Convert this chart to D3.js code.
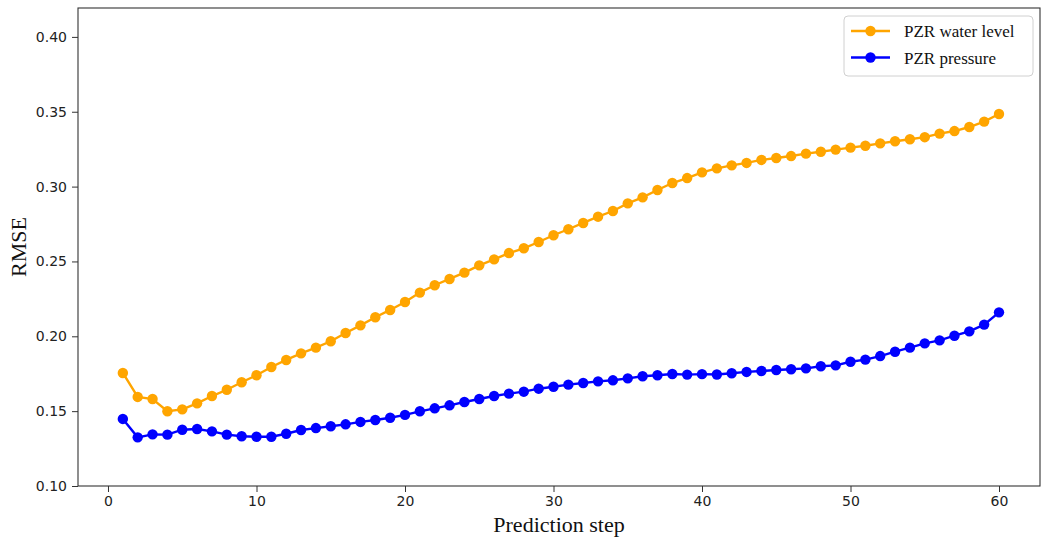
<!DOCTYPE html>
<html>
<head>
<meta charset="utf-8">
<script src="https://cdn.jsdelivr.net/npm/d3@7"></script>
<style>
  body { margin: 0; background: #fff; }
  svg { display: block; }
</style>
</head>
<body>
<script>
// prediction steps 1..60
var steps = d3.range(1, 61);

var waterLevel = [
  0.1755, 0.1595, 0.1581, 0.1499, 0.1512, 0.1552, 0.1601, 0.1643, 0.1693, 0.1740,
  0.1795, 0.1842, 0.1886, 0.1924, 0.1967, 0.2022, 0.2073, 0.2127, 0.2176, 0.2229,
  0.2292, 0.2341, 0.2383, 0.2425, 0.2474, 0.2514, 0.2556, 0.2588, 0.2630, 0.2675,
  0.2715, 0.2757, 0.2799, 0.2837, 0.2888, 0.2928, 0.2977, 0.3024, 0.3057, 0.3095,
  0.3122, 0.3142, 0.3158, 0.3178, 0.3191, 0.3204, 0.3220, 0.3233, 0.3247, 0.3260,
  0.3273, 0.3289, 0.3303, 0.3316, 0.3330, 0.3354, 0.3371, 0.3398, 0.3434, 0.3485
];

var pressure = [
  0.1448, 0.1325, 0.1345, 0.1343, 0.1376, 0.1381, 0.1365, 0.1343, 0.1332, 0.1329,
  0.1329, 0.1349, 0.1374, 0.1387, 0.1399, 0.1412, 0.1428, 0.1441, 0.1456, 0.1475,
  0.1499, 0.1519, 0.1539, 0.1561, 0.1581, 0.1601, 0.1617, 0.1630, 0.1650, 0.1663,
  0.1677, 0.1688, 0.1699, 0.1706, 0.1719, 0.1733, 0.1740, 0.1748, 0.1744, 0.1747,
  0.1745, 0.1753, 0.1762, 0.1768, 0.1775, 0.1780, 0.1786, 0.1800, 0.1806, 0.1830,
  0.1844, 0.1868, 0.1897, 0.1924, 0.1953, 0.1973, 0.2004, 0.2033, 0.2078, 0.2160
];

var seriesNames = ["PZR water level", "PZR pressure"];
var seriesColors = ["orange", "blue"];
var xTicks = [0, 10, 20, 30, 40, 50, 60];
var yTicks = [0.10, 0.15, 0.20, 0.25, 0.30, 0.35, 0.40];

var W = 1042, H = 542;
var plot = {left: 78, right: 1040, top: 8, bottom: 486};

var svg = d3.select("body").append("svg")
  .attr("width", W)
  .attr("height", H);

var x = d3.scaleLinear().domain([-2.02, 62.76]).range([plot.left, plot.right]);
var y = d3.scaleLinear().domain([0.10, 0.4193]).range([plot.bottom, plot.top]);

// x axis
var xAxis = svg.append("g")
  .attr("transform", "translate(0," + plot.bottom + ")")
  .call(d3.axisBottom(x).tickValues(xTicks).tickFormat(d3.format("d")).tickSize(6).tickPadding(4));

// y axis
var yAxis = svg.append("g")
  .attr("transform", "translate(" + plot.left + ",0)")
  .call(d3.axisLeft(y).tickValues(yTicks).tickFormat(d3.format(".2f")).tickSize(6).tickPadding(5));

[xAxis, yAxis].forEach(function(g) {
  g.select(".domain").remove();
  g.selectAll(".tick line").attr("stroke", "#333").attr("stroke-width", 1);
  g.selectAll(".tick text")
    .attr("fill", "#222")
    .style("font-family", "DejaVu Sans, sans-serif")
    .style("font-size", "14px");
});

// frame
svg.append("rect")
  .attr("x", plot.left)
  .attr("y", plot.top)
  .attr("width", plot.right - plot.left)
  .attr("height", plot.bottom - plot.top)
  .attr("fill", "none")
  .attr("stroke", "#333")
  .attr("stroke-width", 1.1);

// axis labels
svg.append("text")
  .attr("x", (plot.left + plot.right) / 2)
  .attr("y", 532)
  .attr("text-anchor", "middle")
  .style("font-family", "Liberation Serif, Times New Roman, serif")
  .style("font-size", "22px")
  .attr("fill", "#111")
  .text("Prediction step");

svg.append("text")
  .attr("transform", "translate(26," + (plot.top + plot.bottom) / 2 + ") rotate(-90)")
  .attr("text-anchor", "middle")
  .style("font-family", "Liberation Serif, Times New Roman, serif")
  .style("font-size", "22px")
  .attr("fill", "#111")
  .text("RMSE");

// lines + markers
var allSeries = [waterLevel, pressure];

var line = d3.line()
  .x(function(d, i) { return x(steps[i]); })
  .y(function(d) { return y(d); });

allSeries.forEach(function(vals, k) {
  svg.append("path")
    .datum(vals)
    .attr("d", line)
    .attr("fill", "none")
    .attr("stroke", seriesColors[k])
    .attr("stroke-width", 2.4);

  svg.append("g").selectAll("circle")
    .data(vals)
    .enter().append("circle")
    .attr("cx", function(d, i) { return x(steps[i]); })
    .attr("cy", function(d) { return y(d); })
    .attr("r", 5.2)
    .attr("fill", seriesColors[k]);
});

// legend
var legend = svg.append("g");
legend.append("rect")
  .attr("x", 844).attr("y", 16)
  .attr("width", 189).attr("height", 60)
  .attr("rx", 4)
  .attr("fill", "white").attr("fill-opacity", 0.8)
  .attr("stroke", "#d0d0d0");

seriesNames.forEach(function(name, k) {
  var ly = 31 + k * 26.5;
  legend.append("line")
    .attr("x1", 851).attr("x2", 890)
    .attr("y1", ly).attr("y2", ly)
    .attr("stroke", seriesColors[k]).attr("stroke-width", 2.4);
  legend.append("circle")
    .attr("cx", 870.5).attr("cy", ly).attr("r", 5.2)
    .attr("fill", seriesColors[k]);
  legend.append("text")
    .attr("x", 904).attr("y", ly + 6)
    .style("font-family", "Liberation Serif, Times New Roman, serif")
    .style("font-size", "17px")
    .attr("fill", "#111")
    .text(name);
});
</script>
</body>
</html>
